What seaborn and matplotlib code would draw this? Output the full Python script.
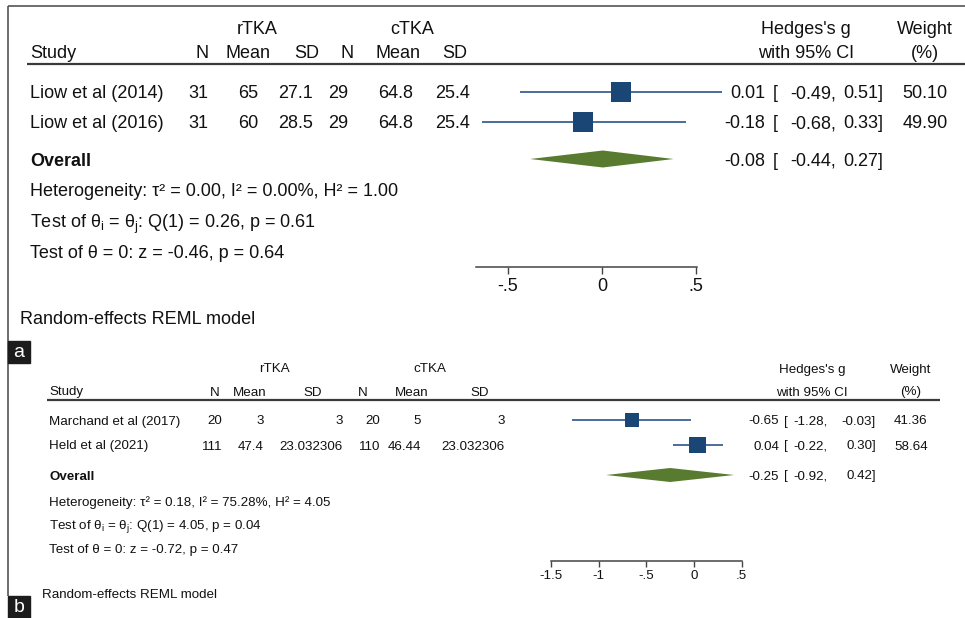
import matplotlib
matplotlib.use("Agg")
import matplotlib.pyplot as plt
import seaborn as sns
import numpy as np
from matplotlib.patches import Rectangle

sns.set_theme(style="white")
plt.rcParams['font.family'] = ['Liberation Sans', 'DejaVu Sans']
plt.rcParams['mathtext.fontset'] = 'custom'
plt.rcParams['mathtext.rm'] = 'Liberation Sans'
plt.rcParams['mathtext.it'] = 'Liberation Sans:italic'
plt.rcParams['mathtext.bf'] = 'Liberation Sans:bold'

# ---------------- data: panel a ----------------
a_studies = ["Liow et al (2014)", "Liow et al (2016)"]
a_r_n = ["31", "31"]
a_r_mean = ["65", "60"]
a_r_sd = ["27.1", "28.5"]
a_c_n = ["29", "29"]
a_c_mean = ["64.8", "64.8"]
a_c_sd = ["25.4", "25.4"]
a_g = [0.01, -0.18]
a_lo = [-0.49, -0.68]
a_hi = [0.51, 0.33]
a_w = [50.10, 49.90]
a_overall = (-0.08, -0.44, 0.27)
a_stats = ["Heterogeneity: τ² = 0.00, I² = 0.00%, H² = 1.00",
           r"Test of θ$_\mathregular{i}$ = θ$_\mathregular{j}$: Q(1) = 0.26, p = 0.61",
           "Test of θ = 0: z = -0.46, p = 0.64"]
a_ticks = [-0.5, 0, 0.5]
a_ticklabels = ["-.5", "0", ".5"]

# ---------------- data: panel b ----------------
b_studies = ["Marchand et al (2017)", "Held et al (2021)"]
b_r_n = ["20", "111"]
b_r_mean = ["3", "47.4"]
b_r_sd = ["3", "23.032306"]
b_c_n = ["20", "110"]
b_c_mean = ["5", "46.44"]
b_c_sd = ["3", "23.032306"]
b_g = [-0.65, 0.04]
b_lo = [-1.28, -0.22]
b_hi = [-0.03, 0.30]
b_w = [41.36, 58.64]
b_overall = (-0.25, -0.92, 0.42)
b_stats = ["Heterogeneity: τ² = 0.18, I² = 75.28%, H² = 4.05",
           r"Test of θ$_\mathregular{i}$ = θ$_\mathregular{j}$: Q(1) = 4.05, p = 0.04",
           "Test of θ = 0: z = -0.72, p = 0.47"]
b_ticks = [-1.5, -1, -0.5, 0, 0.5]
b_ticklabels = ["-1.5", "-1", "-.5", "0", ".5"]

model_label = "Random-effects REML model"

# ---------------- style ----------------
W, H = 965, 618
SQ = "#1a4676"
CI = "#3d6190"
DIA = "#587b30"
TXT = "#111111"

fig = plt.figure(figsize=(W / 100, H / 100), dpi=100)
fig.patch.set_facecolor("white")

bg = fig.add_axes([0, 0, 1, 1])
bg.set_xlim(0, W)
bg.set_ylim(H, 0)
bg.axis("off")


def T(x, y, s, size, ha="left", bold=False, color=TXT):
    bg.text(x, y, s, ha=ha, va="center_baseline", fontsize=size,
            fontweight="bold" if bold else "normal", color=color)


def fig_axes(x0, x1, y0, y1):
    return fig.add_axes([x0 / W, 1 - y1 / H, (x1 - x0) / W, (y1 - y0) / H])


# frame
bg.plot([8, W], [6, 6], color="#555555", lw=1.2, solid_capstyle="butt")
bg.plot([8, 8], [6, 596], color="#555555", lw=1.2, solid_capstyle="butt")
for (ly, lab) in [(341, "a"), (596, "b")]:
    bg.add_patch(Rectangle((8, ly), 22, 22, color="#1c1c1c", zorder=5))
    bg.text(19, ly + 11.5, lab, ha="center", va="center", color="white",
            fontsize=14, zorder=6)


def ci_text(L, y, est, lo, hi, fs):
    T(L["est_r"], y, f"{est:.2f}", fs, "right")
    T(L["br_l"], y, "[", fs, "left")
    T(L["lo_r"], y, f"{lo:.2f},", fs, "right")
    T(L["hi_r"], y, f"{hi:.2f}]", fs, "right")


def panel(L, studies, rn, rm, rsd, cn, cm, csd, g, lo, hi, w, overall, stats,
          ticks, ticklabels):
    fs = L["fs"]
    # headers
    T(L["rtka"], L["h1"], "rTKA", fs, "center")
    T(L["ctka"], L["h1"], "cTKA", fs, "center")
    T(L["study"], L["h2"], "Study", fs)
    for x, s in zip(L["hcols"], ["N", "Mean", "SD", "N", "Mean", "SD"]):
        T(x, L["h2"], s, fs, "center")
    T(L["hg"], L["h1"], "Hedges's g", fs, "center")
    T(L["hg"], L["h2"], "with 95% CI", fs, "center")
    T(L["wt"], L["h1"], "Weight", fs, "center")
    T(L["wt"], L["h2"], "(%)", fs, "center")
    bg.plot(L["hline_x"], [L["hline_y"]] * 2, color="#3a3a3a", lw=1.6,
            solid_capstyle="butt")
    # rows
    for i, st in enumerate(studies):
        y = L["rows"][i]
        T(L["study"], y, st, fs)
        for x, s in zip(L["vcols"], [rn[i], rm[i], rsd[i], cn[i], cm[i], csd[i]]):
            T(x, y, s, fs, "right")
        ci_text(L, y, g[i], lo[i], hi[i], fs)
        T(L["wt"], y, f"{w[i]:.2f}", fs, "center")
    yo = L["overall"]
    T(L["study"], yo, "Overall", fs, bold=True)
    ci_text(L, yo, overall[0], overall[1], overall[2], fs)
    for k, (yy, s) in enumerate(zip(L["stats"], stats)):
        T(L["study"], yy - (1.5 if k == 1 else 0), s, fs)
    T(L["model_x"], L["model_y"], model_label, fs)

    # marks axes (full figure, x in effect units, y in layout rows)
    ax = fig.add_axes([0, 0, 1, 1])
    ax.patch.set_alpha(0)
    ax.axis("off")
    rows = L["rows"][:len(g)]
    ax.hlines(rows, lo, hi, color=CI, lw=1.3, zorder=2)
    sns.scatterplot(x=g, y=rows, marker="s", s=np.array(w) * L["sq"],
                    color=SQ, linewidth=0, edgecolor="none", legend=False,
                    ax=ax, zorder=3)
    e, l, h = overall
    hh = L["dia_h"]
    ax.fill([l, e, h, e], [yo, yo - hh, yo, yo + hh], color=DIA, lw=0, zorder=3)
    ax.set_xlim(-L["zero"] / L["ppu"], (W - L["zero"]) / L["ppu"])
    ax.set_ylim(H, 0)

    # axis
    ax2 = fig_axes(L["ax_x0"], L["ax_x1"], L["ax_y"] - 1, L["ax_y"])
    ax2.patch.set_alpha(0)
    ax2.set_xlim((L["ax_x0"] - L["ax_zero"]) / L["ax_ppu"],
                 (L["ax_x1"] - L["ax_zero"]) / L["ax_ppu"])
    for sp in ["top", "left", "right"]:
        ax2.spines[sp].set_visible(False)
    ax2.spines["bottom"].set_color("#444444")
    ax2.spines["bottom"].set_linewidth(1.1)
    ax2.set_yticks([])
    ax2.set_xticks(ticks)
    ax2.set_xticklabels(ticklabels)
    ax2.tick_params(axis="x", direction="out", length=L["tick_len"], width=1.0,
                    color="#444444", labelsize=fs, pad=L["tick_pad"],
                    labelcolor=TXT, bottom=True)


LA = dict(fs=13, h1=27, h2=52, rtka=257, ctka=412, study=30,
          hcols=[202, 248, 307, 347, 398, 455],
          vcols=[208, 258, 313, 348, 413, 470],
          hg=806, wt=925, hline_x=[27, W], hline_y=64,
          rows=[92, 122], overall=159, stats=[190, 222, 252],
          model_x=20, model_y=317,
          est_r=765, br_l=773, lo_r=836, hi_r=883,
          zero=619, ppu=202, sq=4.1, dia_h=8.5,
          ax_x0=476, ax_x1=697, ax_y=267, ax_zero=602, ax_ppu=188,
          tick_len=5, tick_pad=3)

LB = dict(fs=9.6, h1=368, h2=391, rtka=274, ctka=430, study=49,
          hcols=[215, 250, 313, 363, 412, 480],
          vcols=[222, 264, 343, 380, 421, 505],
          hg=812, wt=911, hline_x=[47, 940], hline_y=400,
          rows=[420, 445], overall=475, stats=[501, 525, 549],
          model_x=42, model_y=593,
          est_r=779, br_l=784, lo_r=828, hi_r=876,
          zero=694, ppu=95.5, sq=2.5, dia_h=7,
          ax_x0=694 - 1.5 * 95.5, ax_x1=694 + 0.5 * 95.5, ax_y=561,
          ax_zero=694, ax_ppu=95.5, tick_len=4.3, tick_pad=2.5)

panel(LA, a_studies, a_r_n, a_r_mean, a_r_sd, a_c_n, a_c_mean, a_c_sd,
      a_g, a_lo, a_hi, a_w, a_overall, a_stats, a_ticks, a_ticklabels)
panel(LB, b_studies, b_r_n, b_r_mean, b_r_sd, b_c_n, b_c_mean, b_c_sd,
      b_g, b_lo, b_hi, b_w, b_overall, b_stats, b_ticks, b_ticklabels)

fig.savefig("out.png", dpi=100, facecolor="white")
